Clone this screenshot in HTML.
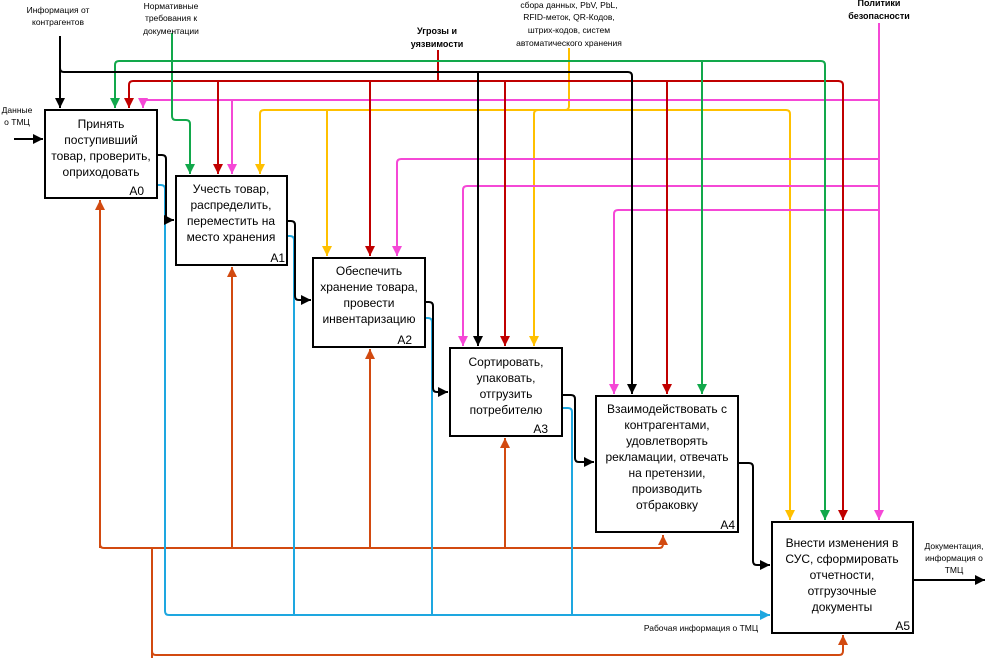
<!DOCTYPE html>
<html><head><meta charset="utf-8"><style>
html,body{margin:0;padding:0;background:#fff;}
svg{display:block;font-family:"Liberation Sans","DejaVu Sans",sans-serif;}
.bt{font-size:12px;text-anchor:middle;fill:#000;}
.lb{font-size:8.5px;text-anchor:middle;fill:#000;}
.bl{font-size:9px;font-weight:bold;text-anchor:middle;fill:#000;}
.nm{font-size:12px;text-anchor:end;fill:#000;}
path.c{fill:none;stroke-width:2;stroke-linejoin:round;}
</style></head><body>
<svg width="988" height="658" viewBox="0 0 988 658" xmlns="http://www.w3.org/2000/svg">
<defs>
<marker id="mk" markerUnits="userSpaceOnUse" markerWidth="12" markerHeight="12" refX="10" refY="5" orient="auto"><polygon points="0,0 10,5 0,10" style="fill:#000;stroke:none"/></marker>
<marker id="mg" markerUnits="userSpaceOnUse" markerWidth="12" markerHeight="12" refX="10" refY="5" orient="auto"><polygon points="0,0 10,5 0,10" style="fill:#12a84b;stroke:none"/></marker>
<marker id="mr" markerUnits="userSpaceOnUse" markerWidth="12" markerHeight="12" refX="10" refY="5" orient="auto"><polygon points="0,0 10,5 0,10" style="fill:#c00000;stroke:none"/></marker>
<marker id="mp" markerUnits="userSpaceOnUse" markerWidth="12" markerHeight="12" refX="10" refY="5" orient="auto"><polygon points="0,0 10,5 0,10" style="fill:#f548d6;stroke:none"/></marker>
<marker id="my" markerUnits="userSpaceOnUse" markerWidth="12" markerHeight="12" refX="10" refY="5" orient="auto"><polygon points="0,0 10,5 0,10" style="fill:#ffc000;stroke:none"/></marker>
<marker id="mb" markerUnits="userSpaceOnUse" markerWidth="12" markerHeight="12" refX="10" refY="5" orient="auto"><polygon points="0,0 10,5 0,10" style="fill:#1ea7e0;stroke:none"/></marker>
<marker id="mo" markerUnits="userSpaceOnUse" markerWidth="12" markerHeight="12" refX="10" refY="5" orient="auto"><polygon points="0,0 10,5 0,10" style="fill:#d24a10;stroke:none"/></marker>
</defs>

<!-- orange mechanisms -->
<g stroke="#d24a10">
<path class="c" d="M100,548 L100,200" marker-end="url(#mo)"/>
<path class="c" d="M100,544 Q100,548 104,548 L659,548 Q663,548 663,544 L663,535" marker-end="url(#mo)"/>
<path class="c" d="M232,548 L232,267" marker-end="url(#mo)"/>
<path class="c" d="M370,548 L370,349" marker-end="url(#mo)"/>
<path class="c" d="M505,548 L505,438" marker-end="url(#mo)"/>
<path class="c" d="M152,548 L152,658"/>
<path class="c" d="M152,651 Q152,655 156,655 L839,655 Q843,655 843,651 L843,635" marker-end="url(#mo)"/>
</g>
<!-- blue outputs -->
<g stroke="#1ea7e0">
<path class="c" d="M157,185 L161,185 Q165,185 165,189 L165,611 Q165,615 169,615 L770,615" marker-end="url(#mb)"/>
<path class="c" d="M287,236 L290,236 Q294,236 294,240 L294,615"/>
<path class="c" d="M425,318 L428,318 Q432,318 432,322 L432,615"/>
<path class="c" d="M562,408 L568,408 Q572,408 572,412 L572,615"/>
</g>
<!-- yellow -->
<g stroke="#ffc000">
<path class="c" d="M569,48 L569,106 Q569,110 565,110 L264,110 Q260,110 260,114 L260,174" marker-end="url(#my)"/>
<path class="c" d="M327,110 L327,256" marker-end="url(#my)"/>
<path class="c" d="M569,110 L538,110 Q534,110 534,114 L534,346" marker-end="url(#my)"/>
<path class="c" d="M569,110 L786,110 Q790,110 790,114 L790,520" marker-end="url(#my)"/>
</g>
<!-- pink -->
<g stroke="#f548d6">
<path class="c" d="M879,23 L879,520" marker-end="url(#mp)"/>
<path class="c" d="M879,100 L147,100 Q143,100 143,104 L143,108" marker-end="url(#mp)"/>
<path class="c" d="M232,100 L232,174" marker-end="url(#mp)"/>
<path class="c" d="M879,159 L401,159 Q397,159 397,163 L397,256" marker-end="url(#mp)"/>
<path class="c" d="M879,186 L467,186 Q463,186 463,190 L463,346" marker-end="url(#mp)"/>
<path class="c" d="M879,210 L618,210 Q614,210 614,214 L614,394" marker-end="url(#mp)"/>
</g>
<!-- red -->
<g stroke="#c00000">
<path class="c" d="M438,50 L438,81"/>
<path class="c" d="M839,81 L133,81 Q129,81 129,85 L129,108" marker-end="url(#mr)"/>
<path class="c" d="M218,81 L218,174" marker-end="url(#mr)"/>
<path class="c" d="M370,81 L370,256" marker-end="url(#mr)"/>
<path class="c" d="M505,81 L505,346" marker-end="url(#mr)"/>
<path class="c" d="M667,81 L667,394" marker-end="url(#mr)"/>
<path class="c" d="M838,81 Q843,81 843,85 L843,520" marker-end="url(#mr)"/>
</g>
<!-- green -->
<g stroke="#12a84b">
<path class="c" d="M172,33 L172,116 Q172,120 176,120 L186,120 Q190,120 190,124 L190,174" marker-end="url(#mg)"/>
<path class="c" d="M172,61 L119,61 Q115,61 115,65 L115,108" marker-end="url(#mg)"/>
<path class="c" d="M172,61 L821,61 Q825,61 825,65 L825,520" marker-end="url(#mg)"/>
<path class="c" d="M702,61 L702,394" marker-end="url(#mg)"/>
</g>
<!-- black -->
<g stroke="#000">
<path class="c" d="M60,36 L60,108" marker-end="url(#mk)"/>
<path class="c" d="M60,68 Q60,72 64,72 L628,72 Q632,72 632,76 L632,394" marker-end="url(#mk)"/>
<path class="c" d="M478,72 L478,346" marker-end="url(#mk)"/>
<path class="c" d="M14,139 L43,139" marker-end="url(#mk)"/>
<path class="c" d="M157,155 L162,155 Q166,155 166,159 L166,216 Q166,220 170,220 L174,220" marker-end="url(#mk)"/>
<path class="c" d="M287,221 L291,221 Q295,221 295,225 L295,296 Q295,300 299,300 L311,300" marker-end="url(#mk)"/>
<path class="c" d="M425,302 L429,302 Q433,302 433,306 L433,388 Q433,392 437,392 L448,392" marker-end="url(#mk)"/>
<path class="c" d="M562,395 L571,395 Q575,395 575,399 L575,458 Q575,462 579,462 L594,462" marker-end="url(#mk)"/>
<path class="c" d="M738,463 L749,463 Q753,463 753,467 L753,561 Q753,565 757,565 L770,565" marker-end="url(#mk)"/>
<path class="c" d="M913,580 L985,580" marker-end="url(#mk)"/>
</g>

<!-- boxes -->
<g fill="#fff" stroke="#000" stroke-width="2">
<rect x="45" y="110" width="112" height="88"/>
<rect x="176" y="176" width="111" height="89"/>
<rect x="313" y="258" width="112" height="89"/>
<rect x="450" y="348" width="112" height="88"/>
<rect x="596" y="396" width="142" height="136"/>
<rect x="772" y="522" width="141" height="111"/>
</g>

<text class="bt" x="101" y="128">Принять</text>
<text class="bt" x="101" y="144">поступивший</text>
<text class="bt" x="101" y="160">товар, проверить,</text>
<text class="bt" x="101" y="176">оприходовать</text>
<text class="nm" x="144" y="195">A0</text>

<text class="bt" x="231" y="193">Учесть товар,</text>
<text class="bt" x="231" y="209">распределить,</text>
<text class="bt" x="231" y="225">переместить на</text>
<text class="bt" x="231" y="241">место хранения</text>
<text class="nm" x="285" y="262">A1</text>

<text class="bt" x="369" y="275">Обеспечить</text>
<text class="bt" x="369" y="291">хранение товара,</text>
<text class="bt" x="369" y="307">провести</text>
<text class="bt" x="369" y="323">инвентаризацию</text>
<text class="nm" x="412" y="344">A2</text>

<text class="bt" x="506" y="366">Сортировать,</text>
<text class="bt" x="506" y="382">упаковать,</text>
<text class="bt" x="506" y="398">отгрузить</text>
<text class="bt" x="506" y="414">потребителю</text>
<text class="nm" x="548" y="433">A3</text>

<text class="bt" x="667" y="413">Взаимодействовать с</text>
<text class="bt" x="667" y="429">контрагентами,</text>
<text class="bt" x="667" y="445">удовлетворять</text>
<text class="bt" x="667" y="461">рекламации, отвечать</text>
<text class="bt" x="667" y="477">на претензии,</text>
<text class="bt" x="667" y="493">производить</text>
<text class="bt" x="667" y="509">отбраковку</text>
<text class="nm" x="735" y="529">A4</text>

<text class="bt" x="842" y="547">Внести изменения в</text>
<text class="bt" x="842" y="563">СУС, сформировать</text>
<text class="bt" x="842" y="579">отчетности,</text>
<text class="bt" x="842" y="595">отгрузочные</text>
<text class="bt" x="842" y="611">документы</text>
<text class="nm" x="910" y="630">A5</text>

<!-- labels -->
<text class="lb" x="58" y="13">Информация от</text>
<text class="lb" x="58" y="25">контрагентов</text>
<text class="lb" x="171" y="9">Нормативные</text>
<text class="lb" x="171" y="21">требования к</text>
<text class="lb" x="171" y="34">документации</text>
<text class="bl" x="437" y="34">Угрозы и</text>
<text class="bl" x="437" y="47">уязвимости</text>
<text class="lb" x="569" y="8">сбора данных, PbV, PbL,</text>
<text class="lb" x="569" y="20">RFID-меток, QR-Кодов,</text>
<text class="lb" x="569" y="33">штрих-кодов, систем</text>
<text class="lb" x="569" y="46">автоматического хранения</text>
<text class="bl" x="879" y="6">Политики</text>
<text class="bl" x="879" y="19">безопасности</text>
<text class="lb" x="17" y="113">Данные</text>
<text class="lb" x="17" y="125">о ТМЦ</text>
<text class="lb" x="954" y="549">Документация,</text>
<text class="lb" x="954" y="561">информация о</text>
<text class="lb" x="954" y="573">ТМЦ</text>
<text class="lb" x="701" y="631">Рабочая информация о ТМЦ</text>
</svg>
</body></html>
